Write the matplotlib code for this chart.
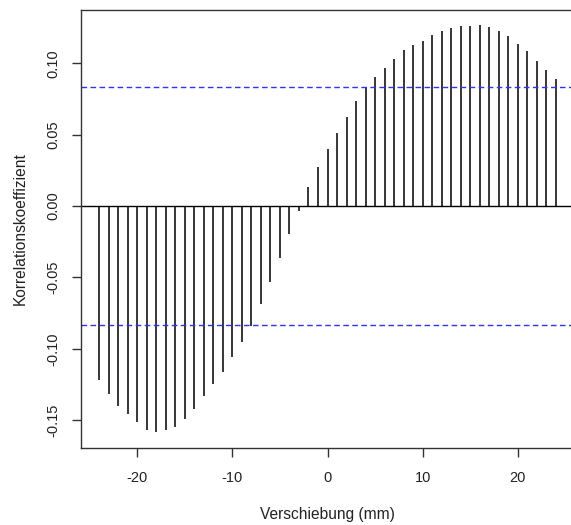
import numpy as np
import matplotlib.pyplot as plt

plt.rcParams['font.family'] = ['Liberation Sans', 'DejaVu Sans']
plt.rcParams['axes.unicode_minus'] = False

# Kreuzkorrelation, Verschiebung in mm
lags = np.arange(-24, 25)
ccf_values = [-0.122, -0.132, -0.140, -0.146, -0.151, -0.157, -0.158, -0.157, -0.155,
              -0.149, -0.142, -0.133, -0.125, -0.116, -0.106, -0.0955, -0.0838,
              -0.0689, -0.0530, -0.0362, -0.0194, -0.0037,
              0.0131, 0.0273, 0.0397, 0.0509, 0.0626, 0.0733, 0.0833, 0.0906,
              0.0969, 0.1032, 0.1092, 0.1130, 0.1155, 0.1200, 0.1225, 0.1244,
              0.1261, 0.1263, 0.1270, 0.1254, 0.1225, 0.1190, 0.1137, 0.1083,
              0.1013, 0.0952, 0.0889]
ci = 0.0833

fig = plt.figure(figsize=(5.71, 5.25), dpi=100)
ax = fig.add_axes([81 / 571, 77 / 525, 493 / 571, 438 / 525])

ax.vlines(lags, 0, ccf_values, color='black', lw=1.1)
ax.axhline(0, color='black', lw=1)
ax.axhline(ci, color='#3030ff', lw=1, ls=(0, (4, 2.5)))
ax.axhline(-ci, color='#3030ff', lw=1, ls=(0, (4, 2.5)))

ax.set_xlim(-25.92, 25.92)
ax.set_ylim(-0.1695, 0.1373)
ax.set_xticks([-20, -10, 0, 10, 20])
ax.set_yticks([-0.15, -0.10, -0.05, 0.00, 0.05, 0.10])
ax.set_yticklabels(['-0.15', '-0.10', '-0.05', '0.00', '0.05', '0.10'],
                   rotation=90, va='center')

ax.spines['right'].set_visible(False)
for s in ['left', 'top', 'bottom']:
    ax.spines[s].set_linewidth(1)
    ax.spines[s].set_color('#333333')

ax.tick_params(axis='both', length=6.5, width=1, color='#333333',
               labelsize=10.5, labelcolor='#222222')
ax.tick_params(axis='x', pad=10)
ax.tick_params(axis='y', pad=8)

ax.set_xlabel('Verschiebung (mm)', fontsize=11.2, labelpad=16, color='#222222')
ax.set_ylabel('Korrelationskoeffizient', fontsize=11.2, labelpad=14, color='#222222')

fig.savefig('out.png', dpi=100)
